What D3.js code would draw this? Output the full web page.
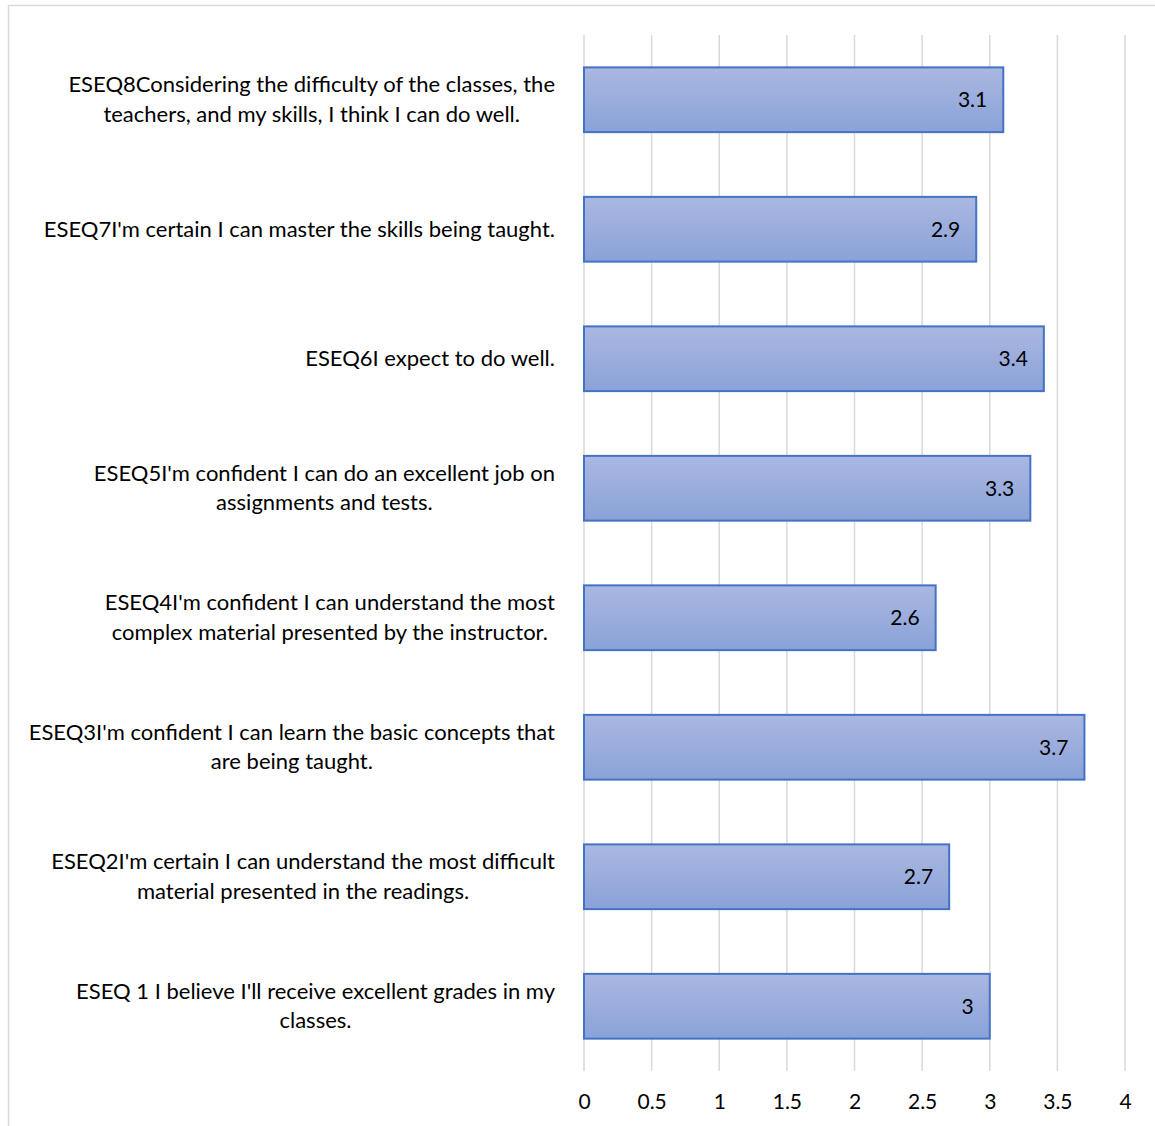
<!DOCTYPE html>
<html lang="en">
<head>
<meta charset="utf-8">
<title>ESEQ bar chart</title>
<script src="https://d3js.org/d3.v7.min.js"></script>
<style>
  body{margin:0;background:#fff;}
  svg{display:block;}
  text{font-family:Lato, "Open Sans", sans-serif;}
</style>
</head>
<body>
<div id="chart1"></div>
<script>
// items, top to bottom as drawn; each label is split the way the chart wraps it
var items = ["ESEQ8", "ESEQ7", "ESEQ6", "ESEQ5", "ESEQ4", "ESEQ3", "ESEQ2", "ESEQ1"]
var labels = [
  ["ESEQ8Considering the difficulty of the classes, the", "teachers, and my skills, I think I can do well."],
  ["ESEQ7I'm certain I can master the skills being taught."],
  ["ESEQ6I expect to do well."],
  ["ESEQ5I'm confident I can do an excellent job on", "assignments and tests."],
  ["ESEQ4I'm confident I can understand the most", "complex material presented by the instructor."],
  ["ESEQ3I'm confident I can learn the basic concepts that", "are being taught."],
  ["ESEQ2I'm certain I can understand the most difficult", "material presented in the readings."],
  ["ESEQ 1 I believe I'll receive excellent grades in my", "classes."]
]
var values = [3.1, 2.9, 3.4, 3.3, 2.6, 3.7, 2.7, 3]
var xTicks = [0, 0.5, 1, 1.5, 2, 2.5, 3, 3.5, 4]

var w = 1155
var h = 1126
// note: "top" is a reserved window property, so use plot* names
var plotLeft = 584, plotRight = 1125, plotTop = 35, plotBottom = 1071

var svg = d3.select("#chart1").append("svg")
    .attr("width", w)
    .attr("height", h)

// chart area border (runs off the right and bottom)
svg.append("path")
    .attr("d", "M8.5," + h + "V5.5H" + w)
    .attr("fill", "none")
    .attr("stroke", "#d9d9d9")
    .attr("stroke-width", 1.5)

var grad = svg.append("defs").append("linearGradient")
    .attr("id", "barFill")
    .attr("x1", 0).attr("y1", 0).attr("x2", 0).attr("y2", 1)
grad.append("stop").attr("offset", "0%").attr("stop-color", "#aab8e1")
grad.append("stop").attr("offset", "100%").attr("stop-color", "#8aa2d8")

var xScale = d3.scaleLinear().domain([0, 4]).range([plotLeft, plotRight])
var yScale = d3.scaleBand().domain(items).range([plotTop, plotBottom]).paddingInner(0.5).paddingOuter(0.25)

// vertical gridlines
svg.append("g").selectAll("line")
    .data(xTicks)
    .enter()
    .append("line")
    .attr("x1", function(d){ return xScale(d) })
    .attr("x2", function(d){ return xScale(d) })
    .attr("y1", plotTop)
    .attr("y2", plotBottom)
    .attr("stroke", "#d9d9d9")
    .attr("stroke-width", 1.5)

// x axis tick labels
var xAxis = d3.axisBottom(xScale).tickValues(xTicks).tickSize(0).tickPadding(0)
    .tickFormat(function(d){ return String(d) })
var gx = svg.append("g")
    .attr("transform", "translate(0," + 1094 + ")")
    .call(xAxis)
gx.select(".domain").remove()
gx.selectAll("text")
    .attr("fill", "#000")
    .attr("font-size", "21px")
    .attr("font-family", "Lato, 'Open Sans', sans-serif")

// bars
svg.selectAll("rect.bar")
    .data(values)
    .enter()
    .append("rect")
    .attr("class", "bar")
    .attr("x", xScale(0))
    .attr("y", function(d, i){ return yScale(items[i]) })
    .attr("width", function(d){ return xScale(d) - xScale(0) })
    .attr("height", yScale.bandwidth())
    .attr("fill", "url(#barFill)")
    .attr("stroke", "#4472c4")
    .attr("stroke-width", 2)

// value labels inside end
svg.selectAll("text.val")
    .data(values)
    .enter()
    .append("text")
    .attr("class", "val")
    .attr("x", function(d){ return xScale(d) - 16 })
    .attr("y", function(d, i){ return yScale(items[i]) + yScale.bandwidth() / 2 })
    .attr("dy", "0.35em")
    .attr("text-anchor", "end")
    .attr("font-size", "21px")
    .attr("fill", "#000")
    .text(function(d){ return String(d) })

// category labels: block right-aligned, lines centred on the widest line
var labelRight = 555
var lineH = 29.5
labels.forEach(function(lines, i){
    var g = svg.append("g")
    var cy = yScale(items[i]) + yScale.bandwidth() / 2
    var t = g.selectAll("text")
        .data(lines)
        .enter()
        .append("text")
        .attr("font-size", "22px")
        .attr("fill", "#000")
        .attr("text-anchor", "middle")
        .attr("y", function(d, j){ return cy + (j - (lines.length - 1) / 2) * lineH })
        .attr("dy", "0.33em")
        .text(function(d){ return d })
    var maxW = 0
    t.each(function(){ maxW = Math.max(maxW, this.getComputedTextLength()) })
    t.attr("x", labelRight - maxW / 2)
})
</script>
</body>
</html>
